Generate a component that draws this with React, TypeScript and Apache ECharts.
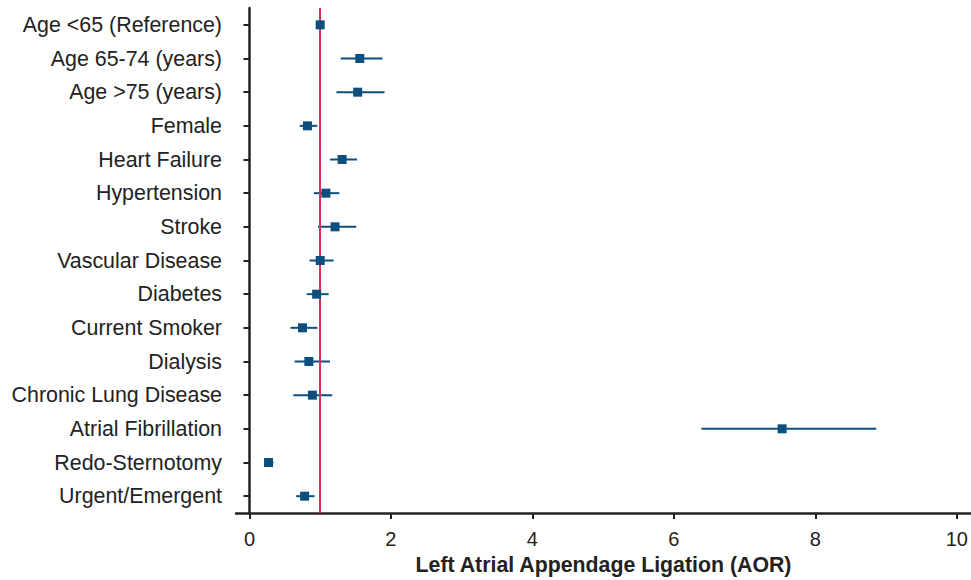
import React, { useEffect, useRef } from "react";
import * as echarts from "echarts";

const categories = [
  "Age <65 (Reference)",
  "Age 65-74 (years)",
  "Age >75 (years)",
  "Female",
  "Heart Failure",
  "Hypertension",
  "Stroke",
  "Vascular Disease",
  "Diabetes",
  "Current Smoker",
  "Dialysis",
  "Chronic Lung Disease",
  "Atrial Fibrillation",
  "Redo-Sternotomy",
  "Urgent/Emergent",
];
const aor = [1.0, 1.56, 1.53, 0.82, 1.31, 1.08, 1.21, 1.0, 0.95, 0.75, 0.84, 0.89, 7.53, 0.27, 0.78];
const lower = [1.0, 1.29, 1.23, 0.71, 1.14, 0.91, 0.97, 0.85, 0.81, 0.58, 0.64, 0.62, 6.39, 0.21, 0.66];
const upper = [1.0, 1.88, 1.91, 0.96, 1.52, 1.27, 1.51, 1.19, 1.12, 0.96, 1.14, 1.17, 8.86, 0.34, 0.92];
const xTicks = [0, 2, 4, 6, 8, 10];
const referenceValue = 1;
const axisTitle = "Left Atrial Appendage Ligation (AOR)";

const FONT = "'Liberation Sans', Arial, Helvetica, sans-serif";
const BLUE = "#0c4f7e";
const RED = "#dc2f58";
const AXIS = "#222222";

export default function App() {
  const ref = useRef<HTMLDivElement>(null);
  useEffect(() => {
    document.body.style.margin = "0";
    if (!ref.current) return;
    const chart = echarts.init(ref.current, undefined, { renderer: "svg" });
    const ciData = categories.map((_, i) => [lower[i], upper[i], i]);
    const ptData = categories.map((_, i) => [aor[i], i]);
    chart.setOption({
      animation: false,
      textStyle: { fontFamily: FONT },
      grid: { left: 236, right: 0, top: 8, bottom: 67, containLabel: false, outerBoundsMode: "none" },
      xAxis: {
        type: "value",
        min: -0.19,
        max: 10.2,
        name: axisTitle,
        nameLocation: "middle",
        nameGap: 41,
        nameTextStyle: { fontSize: 21.3, fontWeight: "bold", color: AXIS, fontFamily: FONT },
        axisLine: { show: true, lineStyle: { color: AXIS, width: 2.5 } },
        axisTick: { show: true, length: 6, lineStyle: { color: AXIS, width: 2 }, customValues: xTicks },
        axisLabel: { fontSize: 20, color: AXIS, margin: 16, fontFamily: FONT, customValues: xTicks },
        splitLine: { show: false },
      },
      yAxis: {
        type: "category",
        data: categories,
        inverse: true,
        boundaryGap: true,
        axisLine: { show: true, lineStyle: { color: AXIS, width: 2.5 } },
        axisTick: { show: true, alignWithLabel: true, length: 6, lineStyle: { color: AXIS, width: 2 } },
        axisLabel: { fontSize: 21.4, color: AXIS, margin: 14, fontFamily: FONT },
        splitLine: { show: false },
      },
      series: [
        {
          type: "custom",
          name: "CI",
          data: ciData,
          encode: { x: [0, 1], y: 2 },
          z: 2,
          renderItem: (params: any, api: any) => {
            const a = api.coord([api.value(0), api.value(2)]);
            const b = api.coord([api.value(1), api.value(2)]);
            return {
              type: "line",
              shape: { x1: a[0], y1: a[1], x2: b[0], y2: b[1] },
              style: { stroke: BLUE, lineWidth: 2 },
            };
          },
        },
        {
          type: "scatter",
          name: "AOR",
          data: ptData,
          symbol: "rect",
          symbolSize: 9,
          itemStyle: { color: BLUE, opacity: 1 },
          z: 4,
          markLine: {
            silent: true,
            symbol: "none",
            label: { show: false },
            lineStyle: { color: RED, width: 2, type: "solid", opacity: 1 },
            data: [{ xAxis: referenceValue }],
            z: 3,
          },
        },
      ],
    });
    return () => chart.dispose();
  }, []);
  return <div ref={ref} style={{ width: 971, height: 580 }} />;
}
